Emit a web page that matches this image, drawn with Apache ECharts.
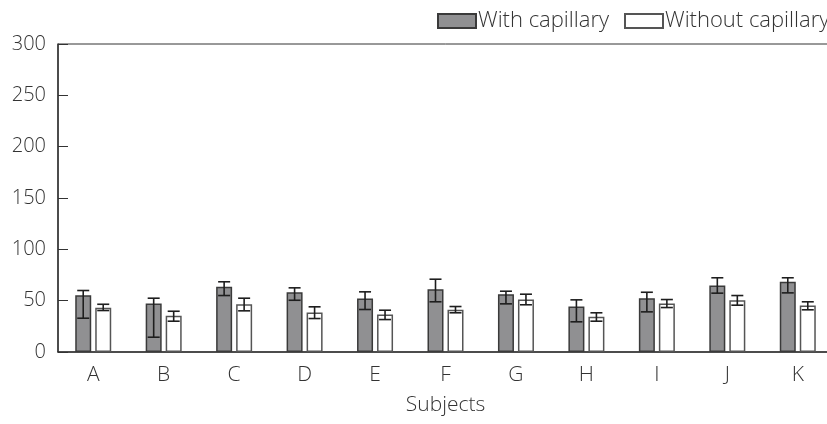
<!DOCTYPE html>
<html>
<head>
<meta charset="utf-8">
<script src="https://cdn.jsdelivr.net/npm/echarts@6/dist/echarts.min.js"></script>
<style>html,body{margin:0;padding:0;background:#fff;overflow:hidden;width:827px;height:424px;}#c{width:833px;height:424px;}</style>
</head>
<body>
<div id="c"></div>
<script>
var categories = ['A','B','C','D','E','F','G','H','I','J','K'];
var yTicks = [0, 50, 100, 150, 200, 250, 300];
var withVals  = [55.3, 47.2, 63.5, 58.2, 52.1, 61.1, 56.3, 44.3, 52.4, 64.8, 68.4];
var withLow   = [32.9, 14.4, 55.0, 50.4, 41.4, 48.9, 46.9, 29.4, 39.1, 57.3, 57.6];
var withHigh  = [59.9, 52.4, 68.4, 62.5, 58.6, 70.9, 59.2, 50.8, 58.2, 72.3, 72.3];
var withoutVals = [43.0, 35.2, 46.5, 38.5, 36.5, 41.1, 51.1, 34.3, 47.2, 50.4, 45.3];
var withoutLow  = [40.4, 30.0, 40.1, 32.6, 31.6, 38.2, 46.0, 30.0, 43.3, 45.6, 41.1];
var withoutHigh = [46.5, 39.7, 52.4, 44.0, 40.7, 44.3, 56.3, 38.2, 51.1, 55.0, 48.9];

var BAR_W = 16, GAP = 4;
var OFFSET = (BAR_W + GAP) / 2;
var FONT = '"Open Sans", "Noto Sans", sans-serif';
var TXT = '#333';
var FW = 300;

function errData(low, high) {
  return categories.map(function (c, i) { return [i, low[i], high[i]]; });
}
function errRender(dx) {
  return function (params, api) {
    var i = api.value(0);
    var lo = api.coord([i, api.value(1)]);
    var hi = api.coord([i, api.value(2)]);
    var x = lo[0] + dx, cap = 6;
    var st = { stroke: '#1e1e1e', lineWidth: 1.6 };
    return {
      type: 'group',
      children: [
        { type: 'line', shape: { x1: x, y1: hi[1], x2: x, y2: lo[1] }, style: st },
        { type: 'line', shape: { x1: x - cap, y1: hi[1], x2: x + cap, y2: hi[1] }, style: st },
        { type: 'line', shape: { x1: x - cap, y1: lo[1], x2: x + cap, y2: lo[1] }, style: st }
      ]
    };
  };
}

function legendAt(name, left) {
  return {
    data: [name],
    left: left, top: 10, padding: 0,
    itemWidth: 38, itemHeight: 14,
    icon: 'rect',
    textStyle: { fontFamily: FONT, fontWeight: FW, fontSize: 22, color: TXT, padding: [0, 0, 0, -3] },
    selectedMode: false
  };
}

var chart = echarts.init(document.getElementById('c'), null, { renderer: 'canvas' });
chart.setOption({
  animation: false,
  backgroundColor: '#fff',
  textStyle: { fontFamily: FONT },
  legend: [legendAt('With capillary', 437), legendAt('Without capillary', 624)],
  grid: {
    left: 58, top: 44, right: 0, bottom: 72,
    show: true, borderColor: '#333', borderWidth: 1, backgroundColor: 'transparent'
  },
  xAxis: {
    type: 'category',
    data: categories,
    name: 'Subjects',
    nameLocation: 'middle',
    nameGap: 43,
    nameTextStyle: { fontFamily: FONT, fontWeight: FW, fontSize: 21, color: TXT },
    axisLine: { lineStyle: { color: '#333', width: 1.5 } },
    axisTick: { show: false },
    axisLabel: { fontFamily: FONT, fontWeight: FW, fontSize: 21, color: TXT, margin: 13 }
  },
  yAxis: {
    type: 'value',
    min: yTicks[0], max: yTicks[yTicks.length - 1], interval: 50,
    axisLine: { show: true, lineStyle: { color: '#333', width: 1.5 } },
    axisTick: { show: true, inside: true, length: 10, lineStyle: { color: '#333' } },
    splitLine: { show: false },
    axisLabel: { fontFamily: FONT, fontWeight: FW, fontSize: 20, color: TXT, margin: 12 }
  },
  series: [
    {
      name: 'With capillary', type: 'bar', data: withVals,
      barWidth: BAR_W, barGap: (GAP / BAR_W * 100) + '%',
      itemStyle: { color: '#909092', borderColor: '#3a3a3a', borderWidth: 1.5 }
    },
    {
      name: 'Without capillary', type: 'bar', data: withoutVals,
      barWidth: BAR_W, barGap: (GAP / BAR_W * 100) + '%',
      itemStyle: { color: '#ffffff', borderColor: '#555', borderWidth: 1.5 }
    },
    {
      name: 'errWith', type: 'custom', data: errData(withLow, withHigh),
      renderItem: errRender(-OFFSET), z: 10, silent: true
    },
    {
      name: 'errWithout', type: 'custom', data: errData(withoutLow, withoutHigh),
      renderItem: errRender(OFFSET), z: 10, silent: true
    }
  ]
});
</script>
</body>
</html>
